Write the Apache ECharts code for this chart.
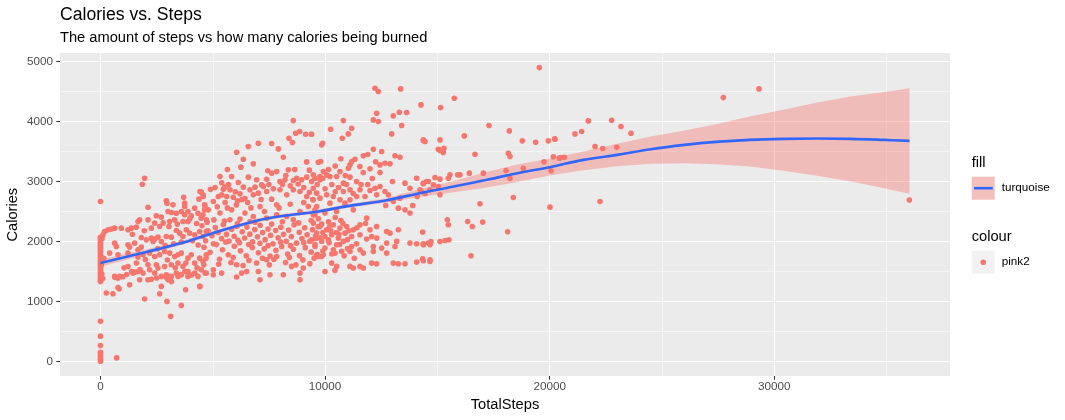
<!DOCTYPE html>
<html><head><meta charset="utf-8">
<script src="https://cdn.jsdelivr.net/npm/echarts@6/dist/echarts.min.js"></script>
<style>html,body{margin:0;padding:0;background:#fff}#c{width:1065px;height:420px}</style>
</head><body><div id="c"></div>
<script>
// [TotalSteps, Calories]
const zeroStepDays = [
 [0,2667],[0,2070],[0,2045],[0,2015],[0,1985],[0,1950],[0,1920],[0,1885],[0,1850],[0,1815],[0,1780],[0,1745],[0,1710],[0,1680],[0,1650],[0,1615],[0,1580],[0,1545],[0,1510],[0,1480],[0,1445],[0,1410],[0,1380],[0,1350],[0,1330],[0,667],[0,420],[0,262],[0,150],[0,110],[0,70],[0,30],[0,0],[720,57],
 [110,2111],[70,2045],[150,1720],[40,1600],[100,1380],[60,1460]
];
const lowStepDays = [
 [1967,3056],[1863,2956],[2115,2572],[2931,2678],[2961,2639],[3703,2739],[3748,2639],[4490,2823],[4386,2706],[4564,2778],[4638,2611],
 [4638,2528],[4564,2445],[4341,2472],[4044,2428],[3896,2500],[3748,2445],[3600,2500],[3377,2472],[3154,2484],[3006,2500],[2709,2406],[2486,2428],[2412,2306],[2264,2222],[2115,2361],[1744,2361],[1670,2334],[1596,2239],[1373,2222],[1225,2195],[928,2222],[631,2222],[483,2206],[334,2195],[186,2167],[3673,2334],[3896,2334],[3302,2361],[3080,2334],[2635,2250],[4712,2361],[4193,2556],[3748,2584],[3228,2611],
 [631,1972],[705,1917],[1225,1945],[1299,1906],[1818,2067],[2041,2028],[2264,2056],[2412,2039],[2560,2072],[2338,2000],[2709,2000],[2931,2083],[3154,2072],[3377,2183],[3525,2139],[3673,2083],[3822,2195],[3970,2139],[4193,2111],[4416,2167],[4564,2083],[4712,2167],[1670,1861],[1818,1906],[409,1806],[1522,1972],
 [780,1778],[1225,1806],[1670,1739],[1893,1778],[2189,1806],[2412,1750],[2635,1778],[2857,1833],[3080,1806],[3302,1750],[3451,1778],[3599,1806],[3896,1722],[4044,1778],[4193,1639],[4416,1722],[4564,1667],[4712,1778],[2115,1611],[2486,1611],[2560,1556],[2857,1583],[3154,1611],[3451,1639],[3673,1583],[3896,1500],[4193,1472],[4490,1528],[1225,1583],[1448,1472],[1670,1500],[1893,1472],[2189,1528],[2412,1472],[2709,1417],[2931,1445],[3154,1417],[3377,1472],[3599,1445],[3896,1417],[854,1417],[631,1417],[780,1389],[1299,1278],[1744,1361],[2115,1361],[3006,1361],[3451,1417],[4341,1417],[4712,1472],[260,1139],[557,1128],[1967,1039],[2709,1250],[2635,1128],[2961,1000],[3124,750],[3599,933],[3792,1195],[4416,1250],
 [650,1400],[990,1410],[1170,1450],[1390,1500],[1530,1490],[1760,1530],[2260,1370],[2500,1390],[2940,1400],[3160,1330],[3560,1450],[3760,1500],[4050,1440],[780,1230],[830,1210],
 [2790,2310],[3050,2250],[3420,2290],[3980,2380],[4280,2300],[4480,2390],[2880,1930],[3260,1960],[3600,1990],[4100,2010],[4350,1940],[1420,2120],[1950,2180],[2550,1880],[2980,1690],[3330,1560],[3800,1640],[4300,1560],[4600,1610],[1050,1560],[1600,1640],[2000,1700]
];
const midStepDays = [
 [8585,4017],[8392,3723],[8541,3651],[8689,3806],[8867,3834],[9134,3790],[9387,3790],[6062,3490],[6582,3584],[7027,3640],[7621,3634],[7917,3545],[6359,3373],[6804,3295],[8140,3406],[9179,3328],[9698,3323],
 [5320,3084],[5840,3084],[6582,3073],[6137,2984],[5543,2906],[5469,2873],[5246,2750],[5024,2667],[5617,2750],[5914,2739],[6211,2795],[6433,2717],[6656,2862],[6879,2906],[7175,2945],[7027,2806],[7398,3039],[7621,3140],[7843,3167],[7992,3000],[8214,3028],[8363,3195],[8585,3017],[8733,3056],[8956,3028],[9179,3073],[9401,3000],[9550,3056],[9772,3084],[7621,2706],[7843,2612],[8288,2778],[8585,2862],[8882,2834],[9179,2750],[9476,2889],[9624,2806],[4578,2750],[4653,2584],[4430,2834],[7250,2917],[6804,2778],[5766,2862],[6359,2906],[7398,2834],[7992,2862],
 [5100,2900],[5400,2980],[5700,2950],[6000,2830],[6300,2700],[6550,2650],[7150,2700],[7500,2950],[7700,2880],[8100,2950],[8450,2930],[8800,2960],[9050,2900],[9300,2820],[9650,2950],[5550,2650],[4900,2870],
 [4801,2528],[5320,2473],[5840,2528],[6433,2473],[7101,2584],[6804,2417],[6211,2373],[5766,2362],[7398,2389],[7843,2445],[8288,2417],[8882,2500],[9253,2584],[9476,2445],[6656,2334],[8585,2362],[9550,2528],
 [4520,2262],[4790,2180],[4960,2096],[5110,2231],[5240,2150],[5390,2047],[5470,2283],[5610,2118],[5720,2006],[5840,2204],[5950,2088],[6070,2252],[6190,1978],[6310,2161],[6420,2058],[6520,2240],[6650,2122],[6770,1993],[6870,2198],[6990,2077],[7110,2269],[7220,2148],[7330,2030],[7460,2207],[7570,2101],[7680,1962],[7800,2183],[7910,2063],[8030,2238],[8150,2119],[8270,2002],[8380,2190],[8500,2081],[8620,2278],[8730,1972],[8850,2152],[8970,2049],[9090,2229],[9200,2112],[9320,2003],[9440,2197],[9570,2092],[9690,2248],
 [4610,1903],[4880,1821],[5160,1948],[5430,1862],[5690,1779],[5960,1921],[6230,1843],[6490,1762],[6760,1898],[7030,1812],[7290,1877],[7550,1758],[7810,1853],[8070,1918],[8330,1792],[8590,1871],[8860,1764],[9120,1897],[9380,1822],[9650,1781],
 [4700,1718],[5300,1702],[5910,1733],[6610,1684],[7210,1721],[7720,1699],[8410,1733],[9010,1692],[9510,1722],
 [4653,1472],[5024,1528],[5024,1445],[5394,1472],[6062,1611],[6285,1472],[6508,1500],[6062,1406],[7027,1500],[7101,1361],[7546,1445],[8140,1445],[8511,1584],[8882,1472],[9031,1556],[8882,1361],[7398,1695],[7843,1750],[4430,1250],
 [4750,2320],[5050,2360],[5520,2340],[6100,2300],[6880,2320],[7620,2290],[8100,2330],[8820,2310],[9380,2350],
 [4680,2010],[5030,1960],[5580,1990],[6120,2020],[6600,1950],[7100,1970],[7460,1930],[8020,1990],[8460,1930],[9050,1980],[9550,1950],
 [5260,1620],[5810,1650],[6350,1600],[6950,1640],[7520,1610],[8240,1650],[8700,1610],[9320,1630],
 [5200,2580],[5650,2560],[6050,2610],[6700,2560],[7300,2500],[7950,2560],[8450,2620],[9050,2650],[9450,2700],[5400,2780],[6100,2680],[6950,3030],[7450,3180],[8250,3100],[8650,3200],[9300,3190],[5650,3200],[6250,3240]
];
const highStepDays = [
 [14269,4279],[12295,4140],[12147,4029],[12369,4001],[13037,4095],[13304,4156],[13631,4151],[13408,3934],[10811,4017],[10247,3873],[11182,3890],[11034,3795],[10766,3723],[12963,3795],[14373,3684],[9846,3612],[9891,3640],[9401,3790],[12147,3540],[11701,3429],[12518,3501],[13111,3429],[13334,3406],[9802,3334],[11330,3373],[11182,3334],[11108,3278],[11034,3223],[11998,3212],[12443,3278],[12666,3306],[12889,3295],[12443,3151],[10663,3167],[9921,3167],[10069,3112],[10217,3084],[9772,3028],[9475,3112],[10514,3084],[11108,3073],[10811,2973],
 [12221,4557],[12369,4502],[13364,4546],
 [11553,2862],[11108,2862],[10811,2834],[10366,2750],[10069,2778],[9772,2723],[9475,2695],[9624,2584],[10217,2639],[10663,2695],[11108,2695],[11404,2750],[11776,2750],[12295,2778],[12221,2889],[12443,2917],[12666,2834],[12814,2778],[13037,2667],[13334,2723],[13557,2973],[14076,3056],[14373,2973],[14595,3001],[13779,2889],[14224,2862],[13260,2556],[13557,2528],[13779,2473],[11850,2389],[11256,2528],[10885,2639],[10514,2500],[9995,2473],[9550,2445],
 [9475,2306],[9772,2250],[10069,2195],[10366,2278],[10663,2223],[10959,2250],[11256,2195],[11553,2278],[9624,2139],[9995,2084],[10292,2112],[10589,2056],[10885,2139],[11182,2084],[11553,2112],[9401,2028],[9846,2001],[10143,2028],[10514,1945],[10811,2001],[11182,1917],[9550,1917],[9995,1889],[10366,1861],[10737,1834],[9624,1778],[9846,1750],[10440,1806],[11998,2195],[12295,2250],[12072,2084],[12295,2056],[12740,2167],[12889,2139],[13260,2195],[12147,1917],[12518,1889],[12740,1973],[13111,1917],[13185,2001],[13779,1973],[14076,1962],[14373,1962],[14595,1973],[12147,1834],[12740,1806],[11108,1834],[11553,1861],[11701,1806],
 [9698,1750],[9921,1778],[10292,1639],[10514,1584],[11108,1584],[11256,1556],[11553,1584],[11701,1556],[12072,1639],[12295,1628],[13037,1639],[13260,1628],[13557,1628],[14076,1656],[14373,1678],[14669,1695],[9995,1500],[10440,1517],
 [9700,2380],[10150,2330],[10450,2400],[10700,2350],[9900,2150],[10200,2250],[10500,2150],[10800,2300],[11000,2030],[9600,2050],[9900,3050],[10300,2950],[10600,2900],[10900,3100],[11400,3000],[11700,3150],[11900,2950],[12100,3050],[13000,3000],[12700,2600],[13900,2600],[14100,2750],[14450,2800],
 [9850,2290],[10250,2180],[10620,2120],[11050,2180],[11420,2230],[11800,2300],[9780,2060],[10180,1980],[10650,1950],[11000,1880],[11400,1960],[11850,2040],[9900,1840],[10300,1790],[10850,1760],[11300,1720],
 [10000,2880],[10450,2830],[10950,2950],[11250,2800],[11600,2950],[12000,2850],[10150,3200],[10450,3260],[11550,3250],[12250,3330],[10700,3380],[11900,3450]
];
const veryHighStepDays = [
 [19537,4901],[15752,4390],[15144,4234],
 [17296,3934],[18201,3845],[16198,3762],[18780,3679],[19373,3656],[19937,3679],[20234,3706],[15114,3695],[14372,3695],[14447,3668],
 [15040,3540],[15188,3529],[15292,3556],[15263,3484],[15114,3518],
 [16673,3456],[18157,3473],[18231,3417],[19745,3329],[18824,3223],[18053,3184],[18231,3056],[17044,3140],[16420,3140],[16005,3112],[15901,3112],[15560,3112],[15485,3056],[15114,3040],[14892,3067],[14521,3001],[14372,2962],[14818,2945],[15040,2917],[15114,2779],[14669,2862],[14298,2834],[20056,3179],[20427,3390],
 [16895,2629],[18379,2734],[20012,2573],
 [15441,2362],[15485,2278],[16346,2334],[16554,2250],[17014,2323],[18127,2162],[14343,2156],
 [14714,2000],[14669,1945],[14372,1945],[15114,2000],[15337,2017],[15515,2028],[14343,1712],[14669,1667],[16494,1762],
 [27729,4401],[29317,4546],[36009,2690],
 [21719,4012],[22757,4023],[23173,3918],[23618,3806],[21125,3795],[21422,3834],[20220,3712],[22015,3584],[22357,3551],[22980,3573],[20160,3412],[20487,3401],[20650,3406],[22238,2667]
];

// smoothed fit (loess) and its confidence band
const smoothSteps = [0,2000,3600,5250,7000,8000,9700,11000,12700,14200,15500,17200,18500,20000,21500,23000,24500,26000,27400,28900,30400,31900,33400,34900,36019];
const smoothFit   = [1640,1820,1973,2167,2351,2420,2501,2590,2684,2806,2900,3029,3135,3240,3362,3445,3540,3612,3662,3695,3712,3718,3712,3695,3679];
const bandLower   = [1580,1780,1940,2135,2320,2390,2470,2558,2645,2740,2810,2900,2990,3100,3190,3255,3295,3306,3290,3251,3179,3095,3001,2890,2795];
const bandUpper   = [1700,1860,2006,2199,2382,2450,2532,2622,2723,2872,2990,3158,3280,3385,3500,3630,3751,3851,3957,4084,4196,4318,4418,4496,4557];

const xTicks = [0,10000,20000,30000];
const xMinor = [5000,15000,25000,35000];
const yTicks = [0,1000,2000,3000,4000,5000];
const yMinor = [500,1500,2500,3500,4500];

const points = zeroStepDays.concat(lowStepDays, midStepDays, highStepDays, veryHighStepDays);
const FONT = '"Liberation Sans", Arial, Helvetica, sans-serif';
const xMin = -1801, xMax = 37820, yMin = -245, yMax = 5145;

const chart = echarts.init(document.getElementById('c'), null, {renderer: 'canvas'});

function majorAxis(min, max, ticks, isX) {
  return {
    type: 'value', min: min, max: max,
    position: isX ? 'bottom' : 'left',
    axisLine: {show: false, onZero: false},
    axisTick: {show: true, length: 3.7, lineStyle: {color: '#333333', width: 1.07}, customValues: ticks},
    axisLabel: {customValues: ticks, color: '#4D4D4D', fontSize: 11.7, fontFamily: FONT, margin: isX ? 5 : 7,
                formatter: function (v) { return String(v); }},
    splitLine: {show: true, lineStyle: {color: '#FFFFFF', width: 1.07}}
  };
}
function minorAxis(min, max, ticks, isX) {
  return {
    type: 'value', min: min, max: max,
    position: isX ? 'top' : 'right',
    axisLine: {show: false, onZero: false},
    axisTick: {show: false, customValues: ticks},
    axisLabel: {show: false, customValues: ticks},
    splitLine: {show: true, lineStyle: {color: '#FFFFFF', width: 0.53}}
  };
}

const option = {
  animation: false,
  backgroundColor: '#FFFFFF',
  grid: {left: 60, right: 115, top: 53, bottom: 44, show: true, backgroundColor: '#EBEBEB', borderWidth: 0},
  xAxis: [majorAxis(xMin, xMax, xTicks, true), minorAxis(xMin, xMax, xMinor, true)],
  yAxis: [majorAxis(yMin, yMax, yTicks, false), minorAxis(yMin, yMax, yMinor, false)],
  series: [
    {
      type: 'scatter', xAxisIndex: 0, yAxisIndex: 0, silent: true, z: 2,
      symbol: 'circle', symbolSize: 5.6,
      itemStyle: {color: '#F8766D', opacity: 1},
      data: points
    },
    {
      type: 'custom', xAxisIndex: 0, yAxisIndex: 0, silent: true, z: 3,
      data: [[smoothSteps[0], bandLower[0]]],
      renderItem: function (params, api) {
        const pts = [];
        for (let i = 0; i < smoothSteps.length; i++) pts.push(api.coord([smoothSteps[i], bandUpper[i]]));
        for (let i = smoothSteps.length - 1; i >= 0; i--) pts.push(api.coord([smoothSteps[i], bandLower[i]]));
        return {type: 'polygon', shape: {points: pts, smooth: 0}, style: {fill: 'rgba(248,118,109,0.4)'}};
      }
    },
    {
      type: 'line', xAxisIndex: 0, yAxisIndex: 0, silent: true, z: 4,
      smooth: 0.4, showSymbol: false, symbol: 'none',
      lineStyle: {color: '#3366FF', width: 2.6},
      data: smoothSteps.map((s, i) => [s, smoothFit[i]])
    }
  ],
  graphic: [
    {type: 'text', x: 60, y: 14.8, style: {text: 'Calories vs. Steps', fill: '#000', font: '17.6px ' + FONT, textAlign: 'left', textVerticalAlign: 'middle', align: 'left', verticalAlign: 'middle'}},
    {type: 'text', x: 60, y: 37.9, style: {text: 'The amount of steps vs how many calories being burned', fill: '#000', font: '14.67px ' + FONT, textAlign: 'left', textVerticalAlign: 'middle', align: 'left', verticalAlign: 'middle'}},
    {type: 'text', x: 505, y: 405, style: {text: 'TotalSteps', fill: '#000', font: '14.67px ' + FONT, textAlign: 'center', textVerticalAlign: 'middle', align: 'center', verticalAlign: 'middle'}},
    {type: 'text', x: 13, y: 214.7, rotation: Math.PI / 2, style: {text: 'Calories', fill: '#000', font: '14.67px ' + FONT, textAlign: 'center', textVerticalAlign: 'middle', align: 'center', verticalAlign: 'middle'}},
    {type: 'text', x: 971.7, y: 163, style: {text: 'fill', fill: '#000', font: '14.67px ' + FONT, textAlign: 'left', textVerticalAlign: 'middle', align: 'left', verticalAlign: 'middle'}},
    {type: 'rect', shape: {x: 971.7, y: 176.7, width: 23, height: 23}, style: {fill: '#F2F2F2'}},
    {type: 'rect', shape: {x: 971.7, y: 176.7, width: 23, height: 23}, style: {fill: 'rgba(248,118,109,0.4)'}},
    {type: 'line', shape: {x1: 974, y1: 188.2, x2: 992.8, y2: 188.2}, style: {stroke: '#3366FF', lineWidth: 2.6}},
    {type: 'text', x: 1001.7, y: 188.2, style: {text: 'turquoise', fill: '#000', font: '11.7px ' + FONT, textAlign: 'left', textVerticalAlign: 'middle', align: 'left', verticalAlign: 'middle'}},
    {type: 'text', x: 971.7, y: 236.8, style: {text: 'colour', fill: '#000', font: '14.67px ' + FONT, textAlign: 'left', textVerticalAlign: 'middle', align: 'left', verticalAlign: 'middle'}},
    {type: 'rect', shape: {x: 971.7, y: 250.7, width: 23, height: 23}, style: {fill: '#F2F2F2'}},
    {type: 'circle', shape: {cx: 983.2, cy: 262.2, r: 2.8}, style: {fill: '#F8766D'}},
    {type: 'text', x: 1001.7, y: 262.2, style: {text: 'pink2', fill: '#000', font: '11.7px ' + FONT, textAlign: 'left', textVerticalAlign: 'middle', align: 'left', verticalAlign: 'middle'}}
  ]
};
chart.setOption(option);
</script>
</body></html>
